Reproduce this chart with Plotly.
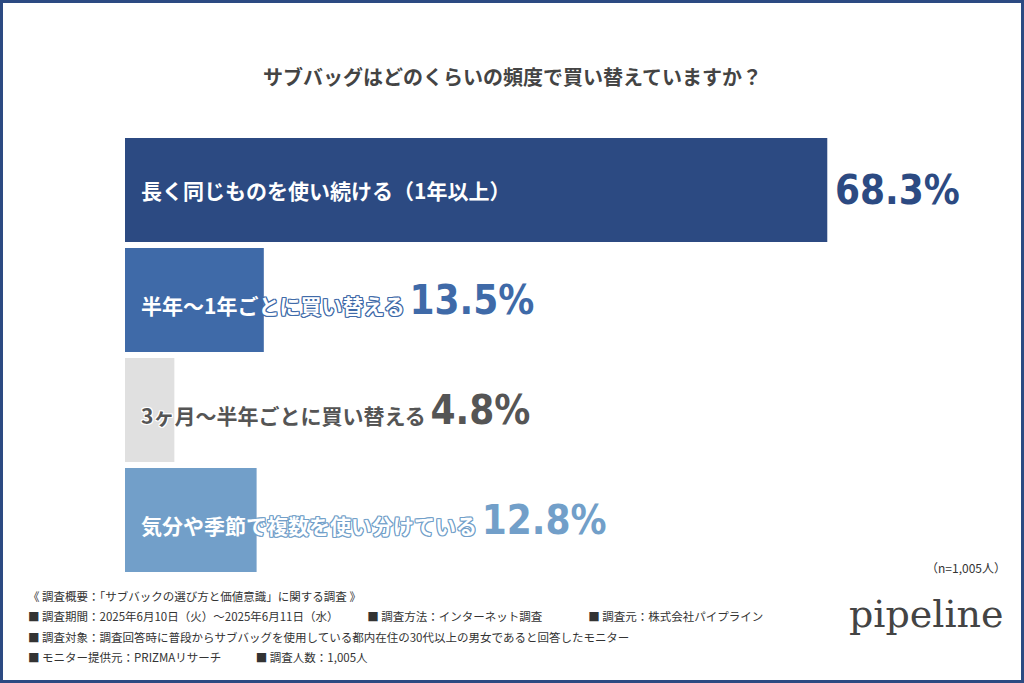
import plotly.graph_objects as go

categories = ["長く同じものを使い続ける（1年以上）", "半年〜1年ごとに買い替える", "3ヶ月〜半年ごとに買い替える", "気分や季節で複数を使い分けている"]
values = [68.3, 13.5, 4.8, 12.8]
bar_colors = ["#2c4a82", "#3f6aa8", "#e0e0e0", "#729fc9"]
value_colors = ["#2c4a82", "#3f6aa8", "#555555", "#729fc9"]
label_colors = ["#ffffff", "#ffffff", "#555555", "#ffffff"]
title = "サブバッグはどのくらいの頻度で買い替えていますか？"
notes = [
    "《 調査概要：「サブバックの選び方と価値意識」に関する調査 》",
    "■ 調査期間：2025年6月10日（火）〜2025年6月11日（水）　　　■ 調査方法：インターネット調査　　　　■ 調査元：株式会社パイプライン",
    "■ 調査対象：調査回答時に普段からサブバッグを使用している都内在住の30代以上の男女であると回答したモニター",
    "■ モニター提供元：PRIZMAリサーチ　　　■ 調査人数：1,005人",
]
n_note = "（n=1,005人）"

W, H = 1024, 683
ML, MR, MT, MB = 125, 25, 135, 108
XMAX = 85
FONT = "Noto Sans CJK JP"
VFONT = "DejaVu Sans Condensed, Roboto, sans-serif"

fig = go.Figure(go.Bar(
    y=categories, x=values, orientation="h",
    marker=dict(color=bar_colors, line=dict(width=0)),
    hoverinfo="skip",
))

def outline(c):
    return ",".join(f"{dx}px {dy}px 0 {c}" for dx, dy in [(1,0),(-1,0),(0,1),(0,-1),(1,1),(-1,-1),(1,-1),(-1,1)])

ann = []
for i, (cat, v) in enumerate(zip(categories, values)):
    sh = outline(bar_colors[i] if i != 2 else "#ffffff")
    if i == 0:
        ann.append(dict(x=0, y=cat, xref="x", yref="y", xanchor="left", xshift=14, showarrow=False,
                        text=f"<b>{cat}</b>", font=dict(family=FONT, size=21, color=label_colors[i])))
        ann.append(dict(x=v, y=cat, xref="x", yref="y", xanchor="left", xshift=6, showarrow=False,
                        text=f"<b>{v:.1f}%</b>", font=dict(family=VFONT, size=40, color=value_colors[i])))
    else:
        ann.append(dict(x=0, y=cat, xref="x", yref="y", xanchor="left", xshift=14, showarrow=False,
                        text=(f"<b>{cat}</b> <span style='font-family:{VFONT};font-size:40px;"
                              f"color:{value_colors[i]};text-shadow:none'><b>{v:.1f}%</b></span>"),
                        font=dict(family=FONT, size=21, color=label_colors[i], shadow=sh)))

pw, ph = W - ML - MR, H - MT - MB
def px(x): return (x - ML) / pw
def py(y): return (H - MB - y) / ph

ann.append(dict(x=px(512), y=py(60), xref="paper", yref="paper", showarrow=False,
                text=f"<b>{title}</b>", font=dict(family=FONT, size=20, color="#444444")))
ann.append(dict(x=px(1008), y=py(578), xref="paper", yref="paper", xanchor="right", showarrow=False,
                text=n_note, font=dict(family=FONT, size=12, color="#333333")))
for k, (t, yy) in enumerate(zip(notes, [606, 626, 647, 667])):
    ann.append(dict(x=px(26), y=py(yy), xref="paper", yref="paper", xanchor="left", showarrow=False,
                    text=t, font=dict(family=FONT, size=11.5, color="#333333")))
ann.append(dict(x=px(1006), y=py(638), xref="paper", yref="paper", xanchor="right", showarrow=False,
                text="pipeline", font=dict(family="DejaVu Serif", size=38, color="#444444")))

fig.update_layout(
    width=W, height=H, margin=dict(l=ML, r=MR, t=MT, b=MB),
    paper_bgcolor="white", plot_bgcolor="white", showlegend=False,
    bargap=0.054,
    xaxis=dict(range=[0, XMAX], visible=False, fixedrange=True),
    yaxis=dict(autorange="reversed", visible=False, fixedrange=True),
    annotations=ann,
    shapes=[dict(type="rect", xref="paper", yref="paper", x0=px(1.5), x1=px(W - 1.5), y0=py(1.5), y1=py(H - 1.5),
                 line=dict(color="#2c4a82", width=3), layer="above")],
)
fig.write_html("out.html", config={"displayModeBar": False},
               post_script="document.body.style.margin='0';document.body.style.overflow='hidden';")
